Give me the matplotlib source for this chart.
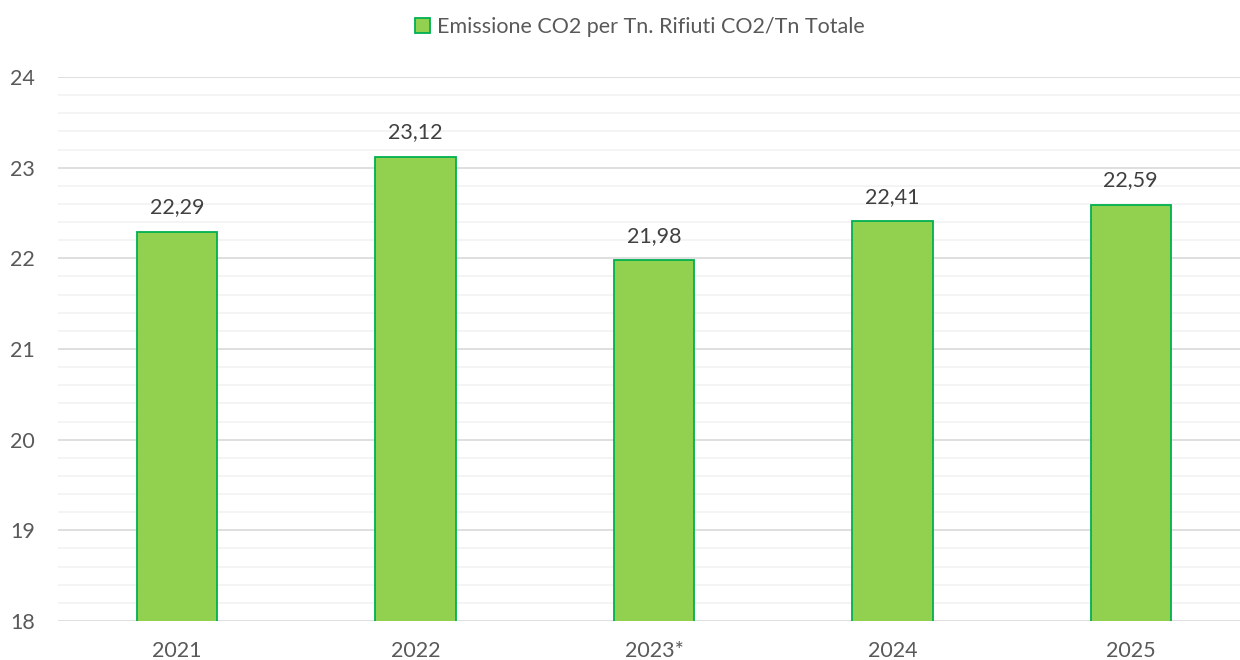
import matplotlib
matplotlib.use("Agg")
import matplotlib.pyplot as plt
from matplotlib.patches import Patch
from matplotlib.ticker import MultipleLocator

# Data
years = ["2021", "2022", "2023*", "2024", "2025"]
emissions = [22.29, 23.12, 21.98, 22.41, 22.59]
series_name = "Emissione CO2 per Tn. Rifiuti CO2/Tn Totale"

text_color = "#595959"
plt.rcParams["font.family"] = ["Lato", "DejaVu Sans"]

fig = plt.figure(figsize=(12.4, 6.6), dpi=100)
ax = fig.add_axes([58 / 1240, 1 - 621 / 660, 1 - 58 / 1240, 544 / 660])

x = range(len(years))
bars = ax.bar(x, emissions, width=0.338, color="#92D050", edgecolor="#00B050",
              linewidth=1.3, zorder=3)

# Value labels with comma decimals
for xi, v in zip(x, emissions):
    ax.text(xi, v + 0.16, f"{v:.2f}".replace(".", ","), ha="center", va="bottom",
            fontsize=15.5, color="#404040")

ax.set_ylim(18, 24)
ax.set_xlim(-0.5, 4.5 - 10 / 238.5)
ax.yaxis.set_major_locator(MultipleLocator(1))
ax.yaxis.set_minor_locator(MultipleLocator(0.2))
ax.grid(axis="y", which="major", color="#D9D9D9", linewidth=1.2, zorder=0)
ax.grid(axis="y", which="minor", color="#F2F2F2", linewidth=1.2, zorder=0)
ax.set_axisbelow(True)

for side in ["top", "right", "left", "bottom"]:
    ax.spines[side].set_visible(False)
ax.tick_params(axis="both", which="both", length=0, labelsize=15.5, colors=text_color)
ax.tick_params(axis="y", pad=16.5)
ax.tick_params(axis="x", pad=14.5)
ax.set_xticks(list(x))
ax.set_xticklabels(years)

# Legend at the top
handle = Patch(facecolor="#92D050", edgecolor="#00B050", linewidth=1.3)
fig.legend([handle], [series_name], loc="center", bbox_to_anchor=(0.516, 1 - 27 / 660),
           frameon=False, fontsize=15.5, labelcolor=text_color, handlelength=0.7,
           handleheight=0.7, handletextpad=0.3)

fig.savefig("out.png", dpi=100)
